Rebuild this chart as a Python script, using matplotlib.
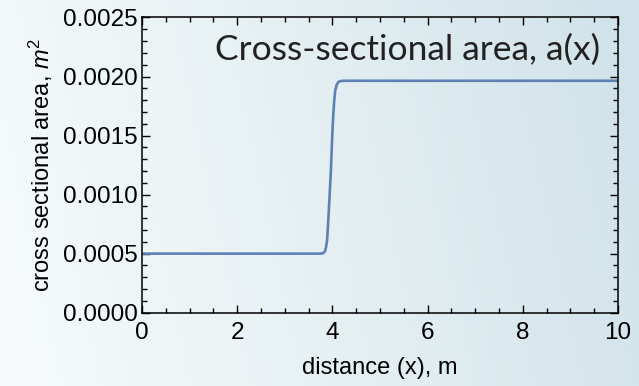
import numpy as np
import matplotlib.pyplot as plt
from matplotlib.colors import LinearSegmentedColormap
from matplotlib.ticker import MultipleLocator

plt.rcParams['font.family'] = 'Liberation Sans'
plt.rcParams['mathtext.fontset'] = 'custom'
plt.rcParams['mathtext.it'] = 'Liberation Sans:italic'
plt.rcParams['mathtext.rm'] = 'Liberation Sans'

# cross sectional area along the pipe (step at x ~ 4 m)
distance = [0.0, 1.0, 2.0, 3.0, 3.7, 3.8, 3.845, 3.87, 3.89, 3.91, 3.93, 3.95,
            3.97, 4.0, 4.02, 4.04, 4.06, 4.09, 4.13, 4.19, 4.3, 5.0, 6.0, 8.0, 10.0]
area = [0.0005, 0.0005, 0.0005, 0.0005, 0.0005, 0.000502, 0.00052, 0.00056,
        0.000616, 0.00075, 0.000898, 0.00105, 0.00121, 0.00152, 0.00168,
        0.0018, 0.00188, 0.00193, 0.001955, 0.001963, 0.001964, 0.001964,
        0.001964, 0.001964, 0.001964]

fig = plt.figure(figsize=(6.39, 3.86), dpi=100)

# soft white-to-blue backdrop
bg = fig.add_axes([0, 0, 1, 1], zorder=-10)
gx, gy = np.meshgrid(np.linspace(0, 1, 300), np.linspace(0, 1, 200))
grad = np.clip(gx * 0.92 + (1 - gy) * 0.12, 0, 1)
cmap = LinearSegmentedColormap.from_list('bg', ['#F7FBFC', '#E6F0F3', '#D1E3EA'])
bg.imshow(grad, cmap=cmap, aspect='auto', extent=[0, 1, 0, 1], origin='upper')
bg.axis('off')

ax = fig.add_axes([0.2222, 0.19, 0.7448, 0.7647])
ax.patch.set_alpha(0)
ax.plot(distance, area, color='#5E81B5', lw=1.9, solid_capstyle='butt',
        solid_joinstyle='round', clip_on=False)

ax.set_xlim(0, 10)
ax.set_ylim(0, 0.0025)
ax.xaxis.set_major_locator(MultipleLocator(2))
ax.xaxis.set_minor_locator(MultipleLocator(0.5))
ax.yaxis.set_major_locator(MultipleLocator(0.0005))
ax.yaxis.set_minor_locator(MultipleLocator(0.0001))
ax.yaxis.set_major_formatter(plt.FuncFormatter(lambda v, p: f'{v:.4f}'))
ax.tick_params(which='both', direction='in', top=True, right=True,
               labelsize=17.5, width=1, colors='black')
ax.tick_params(axis='x', pad=7)
ax.tick_params(axis='y', pad=3)
ax.tick_params(which='major', length=6)
ax.tick_params(which='minor', length=3.5)
for s in ax.spines.values():
    s.set_linewidth(1.1)

ax.set_xlabel('distance (x), m', fontsize=17, labelpad=9)
ax.set_ylabel(r'cross sectional area, $m^2$', fontsize=17, labelpad=6)

ax.text(0.962, 0.945, 'Cross-sectional area, a(x)', transform=ax.transAxes,
        ha='right', va='top', fontsize=25.5, family='Lato', fontweight='normal',
        color='#222222')

fig.savefig('out.png', dpi=100)
